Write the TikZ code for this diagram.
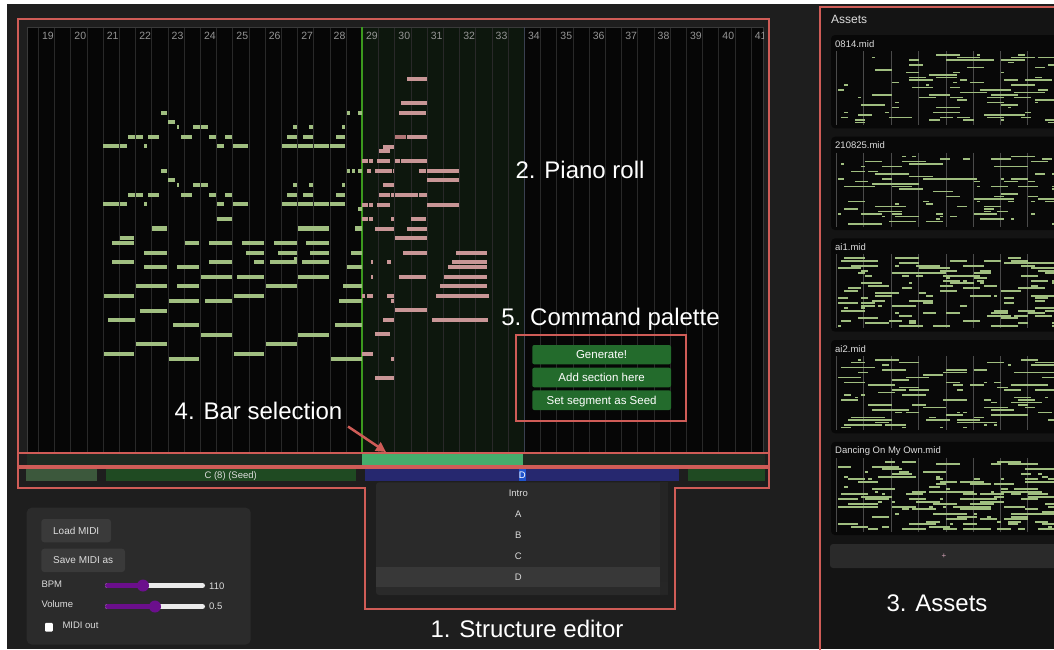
\documentclass[tikz,border=0pt]{standalone}
\usepackage{fontspec}
\setmainfont{Liberation Sans}
\usetikzlibrary{arrows.meta}

\definecolor{bgmain}{HTML}{1E1E1E}
\definecolor{rollbg}{HTML}{060606}
\definecolor{gridln}{HTML}{292929}
\definecolor{rolledge}{HTML}{3A3A3A}
\definecolor{selbg}{HTML}{0D170D}
\definecolor{seledge}{HTML}{3C9A1E}
\definecolor{selend}{HTML}{3A4050}
\definecolor{annred}{HTML}{CF5C57}
\definecolor{gnotec}{HTML}{A0BE80}
\definecolor{pnotec}{HTML}{C89696}
\definecolor{pnotedk}{HTML}{B07676}
\definecolor{barrowc}{HTML}{1F2B22}
\definecolor{barselc}{HTML}{45AD6C}
\definecolor{segA}{HTML}{3C583C}
\definecolor{segG}{HTML}{1F4A22}
\definecolor{segD}{HTML}{26286F}
\definecolor{hlblue}{HTML}{1F52CC}
\definecolor{menubg}{HTML}{2A2A2A}
\definecolor{menuhl}{HTML}{383838}
\definecolor{menuscroll}{HTML}{252525}
\definecolor{panelbg}{HTML}{2B2B2B}
\definecolor{btnbg}{HTML}{3A3A3A}
\definecolor{slpurple}{HTML}{6B0F8C}
\definecolor{sltrack}{HTML}{EBEBEB}
\definecolor{cmdgreen}{HTML}{236B2C}
\definecolor{assetbg}{HTML}{141414}
\definecolor{cardbg}{HTML}{080808}
\definecolor{thumbln}{HTML}{4A4A4A}
\definecolor{uitext}{HTML}{DDDDDD}
\definecolor{barnumc}{HTML}{959595}
\definecolor{addbtn}{HTML}{2A2A2A}
\definecolor{plusc}{HTML}{D0A0B4}

\begin{document}
\begin{tikzpicture}[x=1pt,y=-1pt,
  ann/.style={text=white,font=\fontsize{24}{24}\selectfont,inner sep=0pt,text height=17.2pt,text depth=0pt},
  redbox/.style={draw=annred,line width=2pt},
  gn/.style={fill=gnotec},
  pn/.style={fill=pnotec},
  pnd/.style={fill=pnotedk},
  barnum/.style={text=barnumc,font=\fontsize{10.5}{10.5}\selectfont,inner sep=0pt,text height=7.5pt,text depth=0pt},
  uilabel/.style={text=uitext,font=\fontsize{9.5}{9.5}\selectfont,inner sep=0pt,text height=6.8pt,text depth=0pt},
  btnlabel/.style={text=uitext,font=\fontsize{10}{10}\selectfont,inner sep=0pt,text height=7.2pt,text depth=0pt},
  cmdbtn/.style={fill=cmdgreen,rounded corners=2pt},
  cmdlabel/.style={text=white,font=\fontsize{11.5}{11.5}\selectfont,inner sep=0pt,text height=8.3pt,text depth=0pt},
  uibtn/.style={fill=btnbg,rounded corners=3pt},
  cardtitle/.style={text=uitext,font=\fontsize{9.5}{9.5}\selectfont,inner sep=0pt,text height=6.8pt,text depth=0pt,anchor=west},
  thumbnote/.style={fill=gnotec},
  sltrk/.style={sltrack,line width=5pt,line cap=round},
  slfill/.style={slpurple,line width=5pt,line cap=round},
]
\clip (0,0) rectangle (1054,649);
\fill[white] (0,0) rectangle (1054,649);
\fill[bgmain] (7,4) rectangle (1054,649);

% ---------- piano roll ----------
\fill[rollbg] (27,27) rectangle (763,452);
\fill[selbg] (362,27) rectangle (524,452);
\foreach \i in {0,...,44}
  \draw[gridln,line width=0.8pt] ({38.3+\i*16.2},27) -- ({38.3+\i*16.2},452);
\draw[rolledge,line width=1pt] (27,452) -- (27,27) -- (763,27) -- (763,452);
\draw[seledge,line width=1.3pt] (362,27) -- (362,452);
\draw[selend,line width=1pt] (524,27) -- (524,452);
\begin{scope}
  \clip (27,27) rectangle (763,452);
  \foreach \b in {19,...,41}
    \node[barnum] (bar\b) at ({47.9+(\b-19)*32.4},36) {\b};
\end{scope}

% melody and accompaniment notes before the selection
\foreach \a/\b/\y in {
  160.7/167.3/112.7, 346.7/350/112.7, 357.7/361.7/112.7,
  168.3/175/122.3,
  176.7/179/127, 192.7/200/127, 201/207.7/127, 293.3/296.7/127, 309.3/312.7/127, 341.7/345/127,
  128.3/135/136.7, 136.3/142.7/136.7, 148.3/159/136.7, 180.7/191.7/136.7, 209/215.7/136.7, 225/232/136.7, 287/296.7/136.7, 303.3/313/136.7, 335.7/345.3/136.7,
  103.3/119/146.3, 120/126.7/146.3, 144.3/146.7/146.3, 216.7/223.7/146.3, 233.3/248/146.3, 281.7/296.7/146.3, 298/313/146.3, 314/329.3/146.3, 330.3/345.3/146.3,
  160.7/167.3/170.7, 346.7/350/170.7, 351.7/355/170.7, 357.7/361.7/170.7,
  168.3/175/180.3,
  176.7/179/185, 192.7/200/185, 201/207.7/185, 293.3/296.7/185, 309.3/312.7/185, 341.7/345/185,
  128.3/135/194.7, 136.3/142.7/194.7, 148.3/159/194.7, 180.7/191.7/194.7, 209/215.7/194.7, 225/232/194.7, 287/296.7/194.7, 303.3/313/194.7, 335.7/345.3/194.7,
  103.3/119/204.3, 120/126.7/204.3, 144.3/146.7/204.3, 216.7/223.7/204.3, 233.3/248/204.3, 281.7/296.7/204.3, 298/313/204.3, 314/329.3/204.3, 330.3/345.3/204.3,
  358/361.7/209,
  216.7/231.7/218.7,
  152.3/167.3/228.5, 298/329/228.5, 355/361.7/228.5,
  120/134.3/238.3,
  112/134.3/243, 184.7/199.3/243, 209.3/231.7/243, 241.7/264.3/243, 274/296.7/243, 306.3/329/243,
  144.3/167.3/252.7, 245.7/264.3/252.7, 278/296.7/252.7, 310.3/329/252.7, 351/361.7/252.7,
  294/296.7/259,
  112/134.3/262.3, 209.3/231.7/262.3, 253.7/264.3/262.3, 270/296.7/262.3, 302.3/329/262.3,
  144.3/167.3/267, 176.7/199.3/267, 346.7/361.7/267,
  201/231.7/276.7, 237.3/264.3/276.7, 298.3/329/276.7,
  136.3/167.3/286.3, 176.7/199.3/286.3, 266/296.7/286.3, 342.7/361.7/286.3,
  103.7/134.3/296, 233.7/264.3/296,
  168.7/199.3/301, 205.3/231.7/301, 338.7/361.7/301,
  140.3/167.3/310.7,
  108/135/320.3,
  172.7/199.3/325, 334.7/361.7/325,
  201/231.7/334.7, 298.3/329/334.7,
  136.3/167.3/344.3, 266/296.7/344.3,
  103.7/134.3/354, 233.7/264.3/354,
  168.7/199.3/359, 330.7/361.7/359}
  \fill[gn] (\a,\y-2.1) rectangle (\b,\y+2.1);

% generated notes inside the selection
\foreach \a/\b/\y in {
  407.3/427.3/79, 401.3/427.3/103.3, 399.3/426/113, 407.3/427.3/137,
  383.3/394/146.7, 379/389.7/151.3,
  362.3/367.7/161, 369/373.3/161, 377/389.7/161, 395/399.7/161, 401.3/427.3/161,
  367/371/170.7, 375/391.7/170.7, 392.7/393.7/170.7, 419.3/426/170.7, 427.3/458.7/170.7,
  427.3/458.7/180.3, 383.3/394/185.3,
  379/389.7/195, 391.3/393.7/195, 395/417.7/195, 419.3/427.3/195,
  362.3/367.7/204.7, 369/373.3/204.7, 377/389.7/204.7, 427.3/458.7/204.7,
  362.3/367.7/219, 369/373.3/219, 391.3/393.7/219, 411.3/426/219,
  375/393.7/228.7, 407.3/427.3/228.7,
  395/427.3/238.3,
  403.3/427.3/252.7, 456/486.7/252.7,
  371/373.3/262.3, 387/391.3/262.3, 451.7/486.7/262.3,
  447.7/486.7/267,
  371/373.3/276.7, 399.3/426/276.7, 444/486.7/276.7,
  440/486.7/286.3,
  362.3/365/296, 367/373.3/296, 387/393.7/296, 436/488.7/296,
  391.3/393.7/300.7,
  395/427.3/310.3,
  383.3/393.7/320, 431.7/487.7/320,
  375/389.7/334.3,
  362.3/373.3/353.7,
  391.3/393.7/358.7,
  375/394.3/378}
  \fill[pn] (\a,\y-2.1) rectangle (\b,\y+2.1);
\fill[pnd] (395,137-2.1) rectangle (405.7,137+2.1);

% ---------- bar selection row ----------
\fill[barrowc] (27,453.5) rectangle (765,466);
\fill[barselc] (362,453.5) rectangle (523,466);

% ---------- structure row ----------
\fill[segA] (26.3,469) rectangle (96.7,481);
\fill[segG] (105.7,469) rectangle (355.7,481);
\fill[segD] (365,469) rectangle (679,481);
\fill[segG] (688.3,469) rectangle (765,481);
\node[uilabel] (segC) at (230.7,474.8) {C (8) (Seed)};
\fill[hlblue] (519,469) rectangle (525.7,481);
\node[uilabel,text=white] (segDlabel) at (522.3,474.8) {D};

% section dropdown
\fill[menubg,rounded corners=3pt] (376,482.3) rectangle (667.5,595);
\fill[menuscroll] (660,482.3) rectangle (667.5,595);
\fill[black!85] (660,581.7) rectangle (667.5,594);
\fill[menuhl] (376,566.7) rectangle (660,587);
\foreach \s/\yy/\nm in {Intro/493.3/mIntro, A/514.3/mA, B/535.3/mB, C/556.3/mC, D/577.3/mD}
  \node[uilabel] (\nm) at (518.3,\yy) {\s};

% ---------- command palette ----------
\fill[cmdbtn] (532.3,345) rectangle (671,364.3);
\fill[cmdbtn] (532.3,367.7) rectangle (671,387.3);
\fill[cmdbtn] (532.3,390.3) rectangle (671,410);
\node[cmdlabel] (cmdgen) at (601.6,354.7) {Generate!};
\node[cmdlabel] (cmdadd) at (601.6,377.5) {Add section here};
\node[cmdlabel] (cmdseed) at (601.6,400.2) {Set segment as Seed};

% ---------- transport panel ----------
\fill[panelbg,rounded corners=5pt] (26.7,507.7) rectangle (250.7,644.5);
\fill[uibtn] (41.3,519) rectangle (111,542.3);
\fill[uibtn] (41.3,548.7) rectangle (125,572);
\node[btnlabel] (loadmidi) at (76.2,530.7) {Load MIDI};
\node[btnlabel] (savemidi) at (83.2,560.3) {Save MIDI as};
\node[uilabel,anchor=west] (bpmlbl) at (41.3,584) {BPM};
\node[uilabel,anchor=west] (vollbl) at (41.3,604.5) {Volume};
\draw[sltrk] (107.5,585.5) -- (202.5,585.5);
\draw[slfill] (107.5,585.5) -- (143,585.5);
\fill[slpurple] (143,585.5) circle (6pt);
\draw[sltrk] (107.5,606.5) -- (202.5,606.5);
\draw[slfill] (107.5,606.5) -- (155,606.5);
\fill[slpurple] (155,606.5) circle (6pt);
\node[uilabel,anchor=west] (bpmval) at (209,586) {110};
\node[uilabel,anchor=west] (volval) at (209,606.5) {0.5};
\fill[white,rounded corners=1pt] (45,622.8) rectangle (52.8,631.6);
\node[uilabel,anchor=west] (midiout) at (62.3,625.3) {MIDI out};

% ---------- assets ----------
\fill[assetbg] (821,8) rectangle (1054,649);
\node[text=uitext,font=\fontsize{12}{12}\selectfont,inner sep=0pt,text height=8.6pt,text depth=0pt,anchor=west] (assetshead) at (831,19) {Assets};
\foreach \ct/\sd/\nn in {35/3/95, 136.7/7/105, 238.4/13/150, 340/17/125, 441.8/29/170} {
  \fill[cardbg,rounded corners=4pt] (831,\ct) rectangle (1070,\ct+93.3);
  \foreach \vx in {836,863.5,891,918.5,946,973,1000.5,1027.5}
    \draw[thumbln,line width=0.8pt] (\vx,\ct+16) -- (\vx,\ct+90);
  \pgfmathsetseed{\sd}
  \foreach \i in {1,...,\nn} {
    \pgfmathsetmacro\nx{837.5+int(rnd*64)*3.4}
    \pgfmathsetmacro\nw{3.4*(1+int(rnd*7))}
    \pgfmathsetmacro\ny{\ct+19+int(rnd*28)*2.5}
    \fill[thumbnote] (\nx,\ny) rectangle ++(\nw,1.7);
  }
}
\node[cardtitle] (card1) at (835,43.7) {0814.mid};
\node[cardtitle] (card2) at (835,145.4) {210825.mid};
\node[cardtitle] (card3) at (835,247.1) {ai1.mid};
\node[cardtitle] (card4) at (835,348.7) {ai2.mid};
\node[cardtitle] (card5) at (835,450.5) {Dancing On My Own.mid};
\fill[addbtn,rounded corners=3pt] (830,544) rectangle (1070,568);
\node[text=plusc,font=\fontsize{8}{8}\selectfont,inner sep=0pt] (addasset) at (944,556) {+};

% ---------- annotation frames ----------
\draw[redbox] (17.5,18.5) rectangle (769,466);
\draw[redbox] (17.5,452.5) -- (769,452.5);
\draw[redbox] (17.5,467.5) -- (769,467.5) -- (769,488) -- (675,488) -- (675,608.5)
  -- (365,608.5) -- (365,488) -- (17.5,488) -- cycle;
\draw[redbox] (516,335) rectangle (685.5,421);
\draw[redbox] (820,7) rectangle (1070,670);

% ---------- annotation labels ----------
\node[ann] (lblroll) at (580,170) {2. Piano roll};
\node[ann] (lblcmd) at (610.5,316.5) {5. Command palette};
\node[ann] (lblbar) at (258.5,411.3) {4. Bar selection};
\node[ann] (lblstruct) at (527,628.7) {1. Structure editor};
\node[ann] (lblassets) at (937,603.3) {3. Assets};
\coordinate (bstail) at (348,426.5);
\coordinate (bshead) at (386,452);
\draw[annred,line width=2.5pt,-{Triangle[length=10pt,width=10pt]}] (bstail) -- (bshead);
\end{tikzpicture}
\end{document}
